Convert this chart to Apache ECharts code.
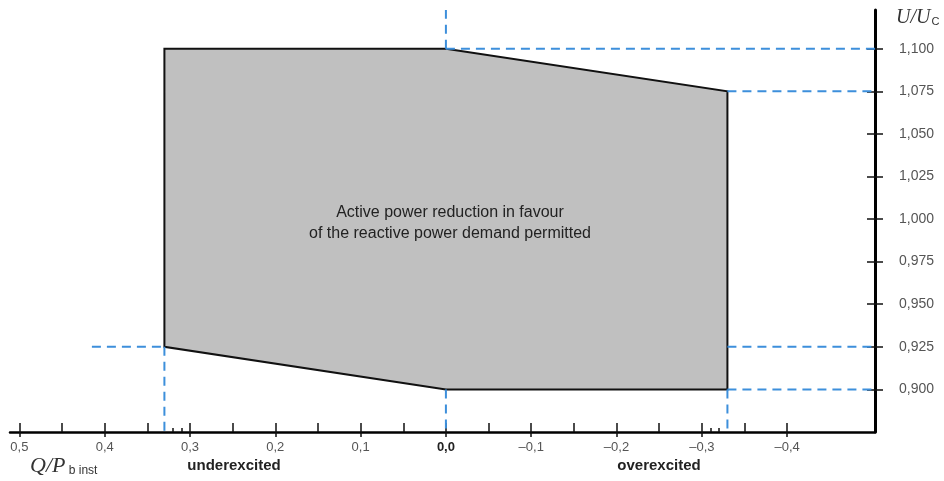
<!DOCTYPE html>
<html>
<head>
<meta charset="utf-8">
<script src="https://cdn.jsdelivr.net/npm/echarts@6/dist/echarts.min.js"></script>
<style>
  html, body { margin: 0; padding: 0; background: #fff; }
  #chart { width: 944px; height: 481px; }
</style>
</head>
<body>
<div id="chart"></div>
<script>
// axis ranges (Q/P inverted, U/Uc)
const qMax = 0.511
const qMin = -0.503
const uMin = 0.875
const uMax = 1.1227

// tick positions
const xMajor = [0.5, 0.4, 0.3, 0.2, 0.1, 0, -0.1, -0.2, -0.3, -0.4]
const xMinor = [0.45, 0.35, 0.25, 0.15, 0.05, -0.05, -0.15, -0.25, -0.35]
const xSmall = [0.32, 0.31, -0.31, -0.32]
const yTicks = [0.9, 0.925, 0.95, 0.975, 1.0, 1.025, 1.05, 1.075, 1.1]

// permitted region corners
const regionQ = [0.33, 0, -0.33, -0.33, 0, 0.33]
const regionU = [1.1, 1.1, 1.075, 0.9, 0.9, 0.925]

// dashed guide segments [[q1, u1], [q2, u2]]
const guides = [
  [[0, 1.1], [0, uMax]],
  [[0, 1.1], [qMin, 1.1]],
  [[-0.33, 1.075], [qMin, 1.075]],
  [[-0.33, 0.925], [qMin, 0.925]],
  [[-0.33, 0.9], [qMin, 0.9]],
  [[-0.33, 0.9], [-0.33, uMin]],
  [[0, 0.9], [0, uMin]],
  [[0.33, 0.925], [0.33, uMin]],
  [[0.415, 0.925], [0.33, 0.925]]
]

const chart = echarts.init(document.getElementById('chart'))

function xLabel(v) {
  const s = Math.abs(v).toFixed(1).replace('.', ',')
  if (Math.abs(v) < 1e-9) return '{b|0,0}'
  return v < 0 ? '\u2013' + s : s
}

const baseX = {
  type: 'value', inverse: true, min: qMin, max: qMax,
  position: 'bottom', splitLine: { show: false }
}
const baseY = {
  type: 'value', min: uMin, max: uMax, position: 'right',
  splitLine: { show: false }
}

const option = {
  animation: false,
  grid: { left: 10, right: 69, top: 10, bottom: 49 },
  xAxis: [
    Object.assign({}, baseX, {
      axisLine: { onZero: false, lineStyle: { color: '#000', width: 2.5 } },
      axisTick: { customValues: xMajor, length: 5, lineStyle: { color: '#111', width: 1.5 } },
      axisLabel: {
        customValues: xMajor, formatter: xLabel, margin: 9,
        color: '#555', fontSize: 13, fontFamily: 'Liberation Sans, Arial',
        rich: { b: { fontWeight: 'bold', color: '#222', fontSize: 13, fontFamily: 'Liberation Sans, Arial' } }
      }
    }),
    Object.assign({}, baseX, {
      axisLine: { show: false, onZero: false },
      axisTick: { customValues: xMajor.concat(xMinor), inside: true, length: 9, lineStyle: { color: '#111', width: 1.5 } },
      axisLabel: { show: false }
    }),
    Object.assign({}, baseX, {
      axisLine: { show: false, onZero: false },
      axisTick: { customValues: xSmall, inside: true, length: 4, lineStyle: { color: '#111', width: 1.5 } },
      axisLabel: { show: false }
    })
  ],
  yAxis: [
    Object.assign({}, baseY, {
      axisLine: { onZero: false, lineStyle: { color: '#000', width: 3 } },
      axisTick: { customValues: yTicks, length: 8, lineStyle: { color: '#111', width: 1.5 } },
      axisLabel: {
        customValues: yTicks, margin: 24, color: '#555', fontSize: 14,
        fontFamily: 'Liberation Sans, Arial',
        formatter: v => v.toFixed(3).replace('.', ',')
      }
    }),
    Object.assign({}, baseY, {
      axisLine: { show: false, onZero: false },
      axisTick: { customValues: yTicks, inside: true, length: 8, lineStyle: { color: '#111', width: 1.5 } },
      axisLabel: { show: false }
    })
  ],
  series: [
    {
      type: 'custom',
      z: 2,
      data: regionQ.map((q, i) => [q, regionU[i]]),
      encode: { x: 0, y: 1 },
      renderItem: function (params, api) {
        if (params.dataIndex !== 0) return null
        const pts = regionQ.map((q, i) => api.coord([q, regionU[i]]))
        return {
          type: 'polygon',
          shape: { points: pts },
          style: { fill: '#c0c0c0', stroke: '#111', lineWidth: 2 }
        }
      }
    }
  ].concat(guides.map(g => ({
    type: 'line',
    z: 3,
    data: g,
    symbol: 'none',
    silent: true,
    lineStyle: { color: '#3d8fdb', width: 2, type: [9, 6] }
  }))),
  graphic: [
    {
      type: 'text', position: [450, 202], z: 10,
      style: {
        text: 'Active power reduction in favour\nof the reactive power demand permitted',
        align: 'center', fill: '#222', fontSize: 16, lineHeight: 21,
        fontFamily: 'Liberation Sans, Arial'
      }
    },
    {
      type: 'text', position: [30, 455],
      style: {
        text: '{i|Q/P}{s| b inst}',
        rich: {
          i: { fontFamily: 'Liberation Serif, serif', fontStyle: 'italic', fontSize: 22, fill: '#333' },
          s: { fontFamily: 'Liberation Sans, Arial', fontSize: 12, fill: '#333', padding: [9, 0, 0, 0] }
        }
      }
    },
    {
      type: 'text', position: [234, 458],
      style: { text: 'underexcited', align: 'center', fill: '#222', fontSize: 15, fontWeight: 'bold', fontFamily: 'Liberation Sans, Arial' }
    },
    {
      type: 'text', position: [659, 458],
      style: { text: 'overexcited', align: 'center', fill: '#222', fontSize: 15, fontWeight: 'bold', fontFamily: 'Liberation Sans, Arial' }
    },
    {
      type: 'text', position: [896, 8],
      style: {
        text: '{i|U/U}{s|C}',
        rich: {
          i: { fontFamily: 'Liberation Serif, serif', fontStyle: 'italic', fontSize: 20, fill: '#333' },
          s: { fontFamily: 'Liberation Sans, Arial', fontSize: 11, fill: '#333', padding: [8, 0, 0, 1] }
        }
      }
    }
  ]
}

chart.setOption(option)
</script>
</body>
</html>
